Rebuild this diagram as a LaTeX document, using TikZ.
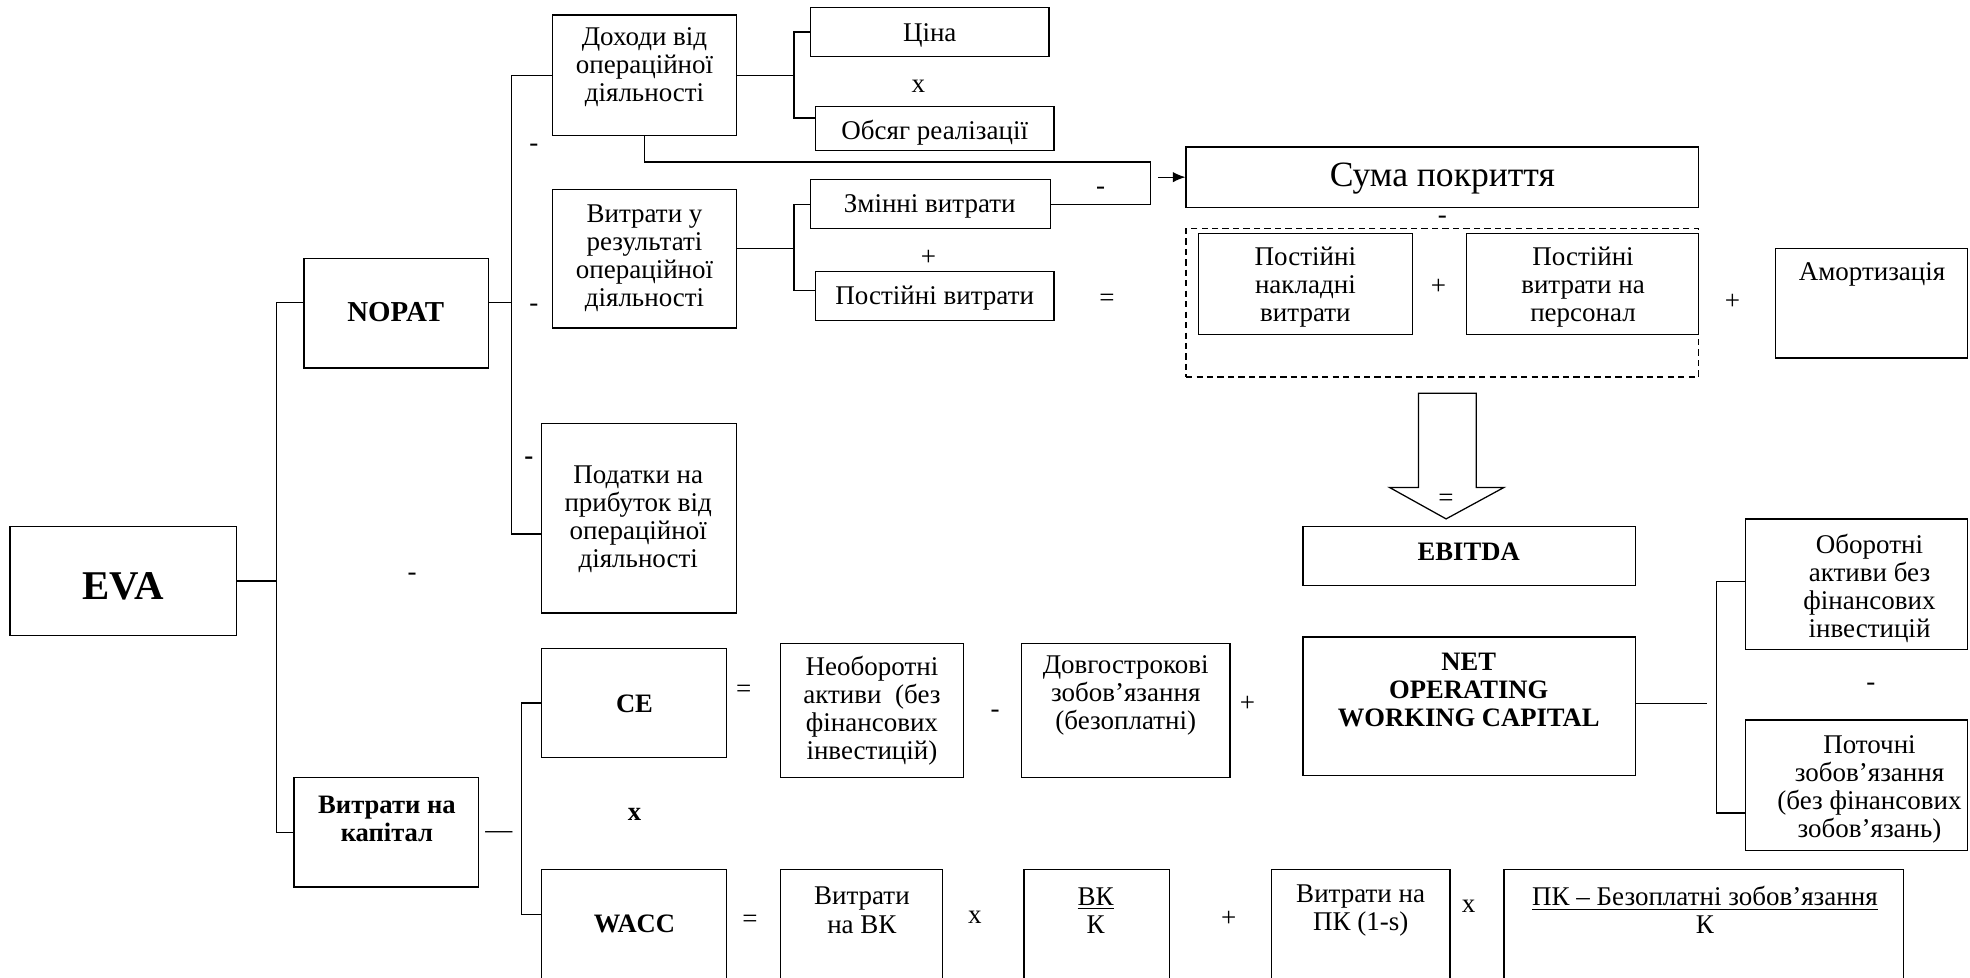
\documentclass[tikz,border=0pt]{standalone}
\usepackage{fontspec}
\setmainfont{Liberation Serif}
\usetikzlibrary{fit,arrows.meta}
\begin{document}
\begin{tikzpicture}[x=0.6pt,y=-0.6pt,
  box/.style={draw, line width=0.6pt, inner sep=0pt},
  txt/.style={align=center, font=\fontsize{12.9}{13.4}\selectfont, inner sep=0pt, yshift=-1.5pt},
  btxt/.style={align=center, font=\fontsize{12.7}{13.4}\selectfont\bfseries, inner sep=0pt, yshift=-1.5pt},
  sym/.style={font=\fontsize{12.9}{13.4}\selectfont, inner sep=0pt, yshift=-1.2pt},
  ln/.style={line width=0.6pt}]
\clip (0,0) rectangle (1568,778);
\fill[white] (0,0) rectangle (1568,778);
% helper coordinates
\coordinate (y94) at (0,94);
\coordinate (y231) at (0,231);
\coordinate (y240) at (0,240.5);
\coordinate (y425) at (0,425);
\coordinate (y463) at (0,463);
\coordinate (y560) at (0,560);
\coordinate (y647) at (0,647);
\coordinate (y728) at (0,728);
% ---- EVA and NOPAT
\node[box, fit={(8,419) (188,506)}] (eva) {};
\node[btxt, font=\fontsize{19.5}{20}\selectfont\bfseries] (eva-t) at (98,464) {EVA};
\node[box, fit={(242,206) (389,293)}] (nopat) {};
\node[btxt, font=\fontsize{13.8}{14}\selectfont\bfseries] (nopat-t) at (315,246) {NOPAT};
\node[box, fit={(234,619) (381,706)}] (kap) {};
\node[btxt] (kap-t) at (308,649) {Витрати на\\капітал};
% ---- top branch
\node[box, fit={(440,12) (586,108)}] (doh) {};
\node[txt] (doh-t) at (513,51) {Доходи від\\операційної\\діяльності};
\node[box, fit={(645,6) (835,45)}] (tsina) {};
\node[txt] (tsina-t) at (740,26) {Ціна};
\node[sym] (s1) at (731,67) {x};
\node[box, fit={(649,85) (839,120)}] (obs) {};
\node[txt] (obs-t) at (744,103) {Обсяг реалізації};
\node[box, fit={(440,151) (586,261)}] (vytr) {};
\node[txt] (vytr-t) at (513,203) {Витрати у\\результаті\\операційної\\діяльності};
\node[box, fit={(645,143) (836,182)}] (zmin) {};
\node[txt] (zmin-t) at (740,162) {Змінні витрати};
\node[sym] (s2) at (739,203) {+};
\node[box, fit={(649,216) (839,255)}] (post) {};
\node[txt] (post-t) at (744,235) {Постійні витрати};
\node[sym] (s3) at (881,237) {=};
\node[box, fit={(944,117) (1352,165)}] (suma) {};
\node[txt, font=\fontsize{17}{18}\selectfont] (suma-t) at (1148,140) {Сума покриття};
\node[sym] (s4) at (1148,173) {-};
\node[box, fit={(944,182) (1352,300)}, dash pattern=on 3pt off 2pt] (dsh) {};
\node[box, fit={(954,186) (1124,266)}] (nakl) {};
\node[txt] (nakl-t) at (1039,226) {Постійні\\накладні\\витрати};
\node[sym] (s5) at (1145,226) {+};
\node[box, fit={(1167,186) (1352,266)}] (pers) {};
\node[txt] (pers-t) at (1260,226) {Постійні\\витрати на\\персонал};
\node[sym] (s6) at (1379,238) {+};
\node[box, fit={(1413,198) (1566,285)}] (amort) {};
\node[txt] (amort-t) at (1490,216) {Амортизація};
\node[box, fit={(431,337) (586,488)}] (pod) {};
\node[txt] (pod-t) at (508,411) {Податки на\\прибуток від\\операційної\\діяльності};
% minus signs
\node[sym] (m1) at (425,116) {-};
\node[sym] (m2) at (425,243) {-};
\node[sym, font=\fontsize{12.9}{13.4}\selectfont\bfseries] (m3) at (421,365) {-};
\node[sym] (m4) at (328,457) {-};
\node[sym] (m5) at (876,150) {-};
% big arrow
\draw[ln] (1129,313) -- (1175,313) -- (1175,388) -- (1197,388) -- (1151,413) -- (1106,388) -- (1129,388) -- cycle;
\node[sym] (s7) at (1151,396) {=};
\node[box, fit={(1037,419) (1302,466)}] (ebitda) {};
\node[btxt] (ebitda-t) at (1169,437) {EBITDA};
% ---- bottom
\node[box, fit={(431,516) (578,603)}] (ce) {};
\node[btxt] (ce-t) at (505,558) {CE};
\node[btxt] (s8) at (505,646) {x};
\node[box, fit={(431,692) (578,800)}] (wacc) {};
\node[btxt] (wacc-t) at (505,733) {WACC};
\node[sym] (s9) at (592,548) {=};
\node[sym] (s10) at (597,731) {=};
\node[sym] (dashk) at (397,663) {—};
\node[box, fit={(621,512) (767,619)}] (neob) {};
\node[txt] (neob-t) at (694,563) {Необоротні\\активи~ (без\\фінансових\\інвестицій)};
\node[sym] (s11) at (792,566) {-};
\node[box, fit={(813,512) (979,619)}] (dovg) {};
\node[txt] (dovg-t) at (896,551) {Довгострокові\\зобов’язання\\(безоплатні)};
\node[sym] (s12) at (993,558) {+};
\node[box, fit={(1037,507) (1302,617)}] (nowc) {};
\node[btxt] (nowc-t) at (1169,547) {NET\\OPERATING\\WORKING CAPITAL};
\node[box, fit={(1389,413) (1566,517)}] (obor) {};
\node[txt] (obor-t) at (1488,466) {Оборотні\\активи без\\фінансових\\інвестицій};
\node[sym] (s13) at (1489,545) {-};
\node[box, fit={(1389,573) (1566,677)}] (potoch) {};
\node[txt] (potoch-t) at (1488,626) {Поточні\\зобов’язання\\(без фінансових\\зобов’язань)};
\node[box, fit={(621,692) (750,800)}] (vvk) {};
\node[txt] (vvk-t) at (686,722) {Витрати\\на ВК};
\node[sym] (s14) at (776,728) {x};
\node[box, fit={(815,692) (931,800)}] (vkk) {};
\node[txt] (vkk-t) at (872,722) {\underline{ВК}\\К};
\node[sym] (s15) at (978,729) {+};
\node[box, fit={(1012,692) (1154,800)}] (vpk) {};
\node[txt] (vpk-t) at (1083,722) {Витрати на\\ПК (1-s)};
\node[sym] (s16) at (1169,719) {x};
\node[box, fit={(1197,692) (1515,800)}] (pkk) {};
\node[txt] (pkk-t) at (1357,722) {\underline{ПК – Безоплатні зобов’язання}\\К};
% ---- connectors
\coordinate (j1) at (220,462.5);
\draw[ln] (eva.east) -- (j1);
\draw[ln] (nopat.west |- y240) -| (j1);
\draw[ln] (kap.west) -| (j1);
\coordinate (j2) at (407,240.5);
\draw[ln] (nopat.east |- j2) -- (j2);
\draw[ln] (doh.west) -| (j2);
\draw[ln] (pod.west |- y425) -| (j2);
\coordinate (j3) at (632,60);
\draw[ln] (doh.east) -- (j3);
\draw[ln] (tsina.west) -| (j3);
\draw[ln] (obs.west |- y94) -| (j3);
\coordinate (j4) at (632,198);
\draw[ln] (vytr.east |- j4) -- (j4);
\draw[ln] (zmin.west) -| (j4);
\draw[ln] (post.west |- y231) -| (j4);
\coordinate (k1) at (916,129);
\coordinate (k2) at (916,162.5);
\draw[ln] (doh.south) |- (k1) -- (k2) -- (zmin.east);
\coordinate (k3) at (922,141);
\draw[ln, -{Latex[length=6pt,width=5pt]}] (k3) -- (suma.west);
\coordinate (j6a) at (1359,560);
\draw[ln] (nowc.east |- y560) -- (j6a);
\coordinate (j6t) at (1366,463);
\coordinate (j6b) at (1366,647);
\draw[ln] (obor.west |- y463) -- (j6t) -- (j6b) -- (potoch.west |- y647);
\coordinate (j7t) at (415,559.5);
\coordinate (j7b) at (415,728);
\draw[ln] (ce.west) -- (j7t) -- (j7b) -- (wacc.west |- y728);
\end{tikzpicture}
\end{document}
